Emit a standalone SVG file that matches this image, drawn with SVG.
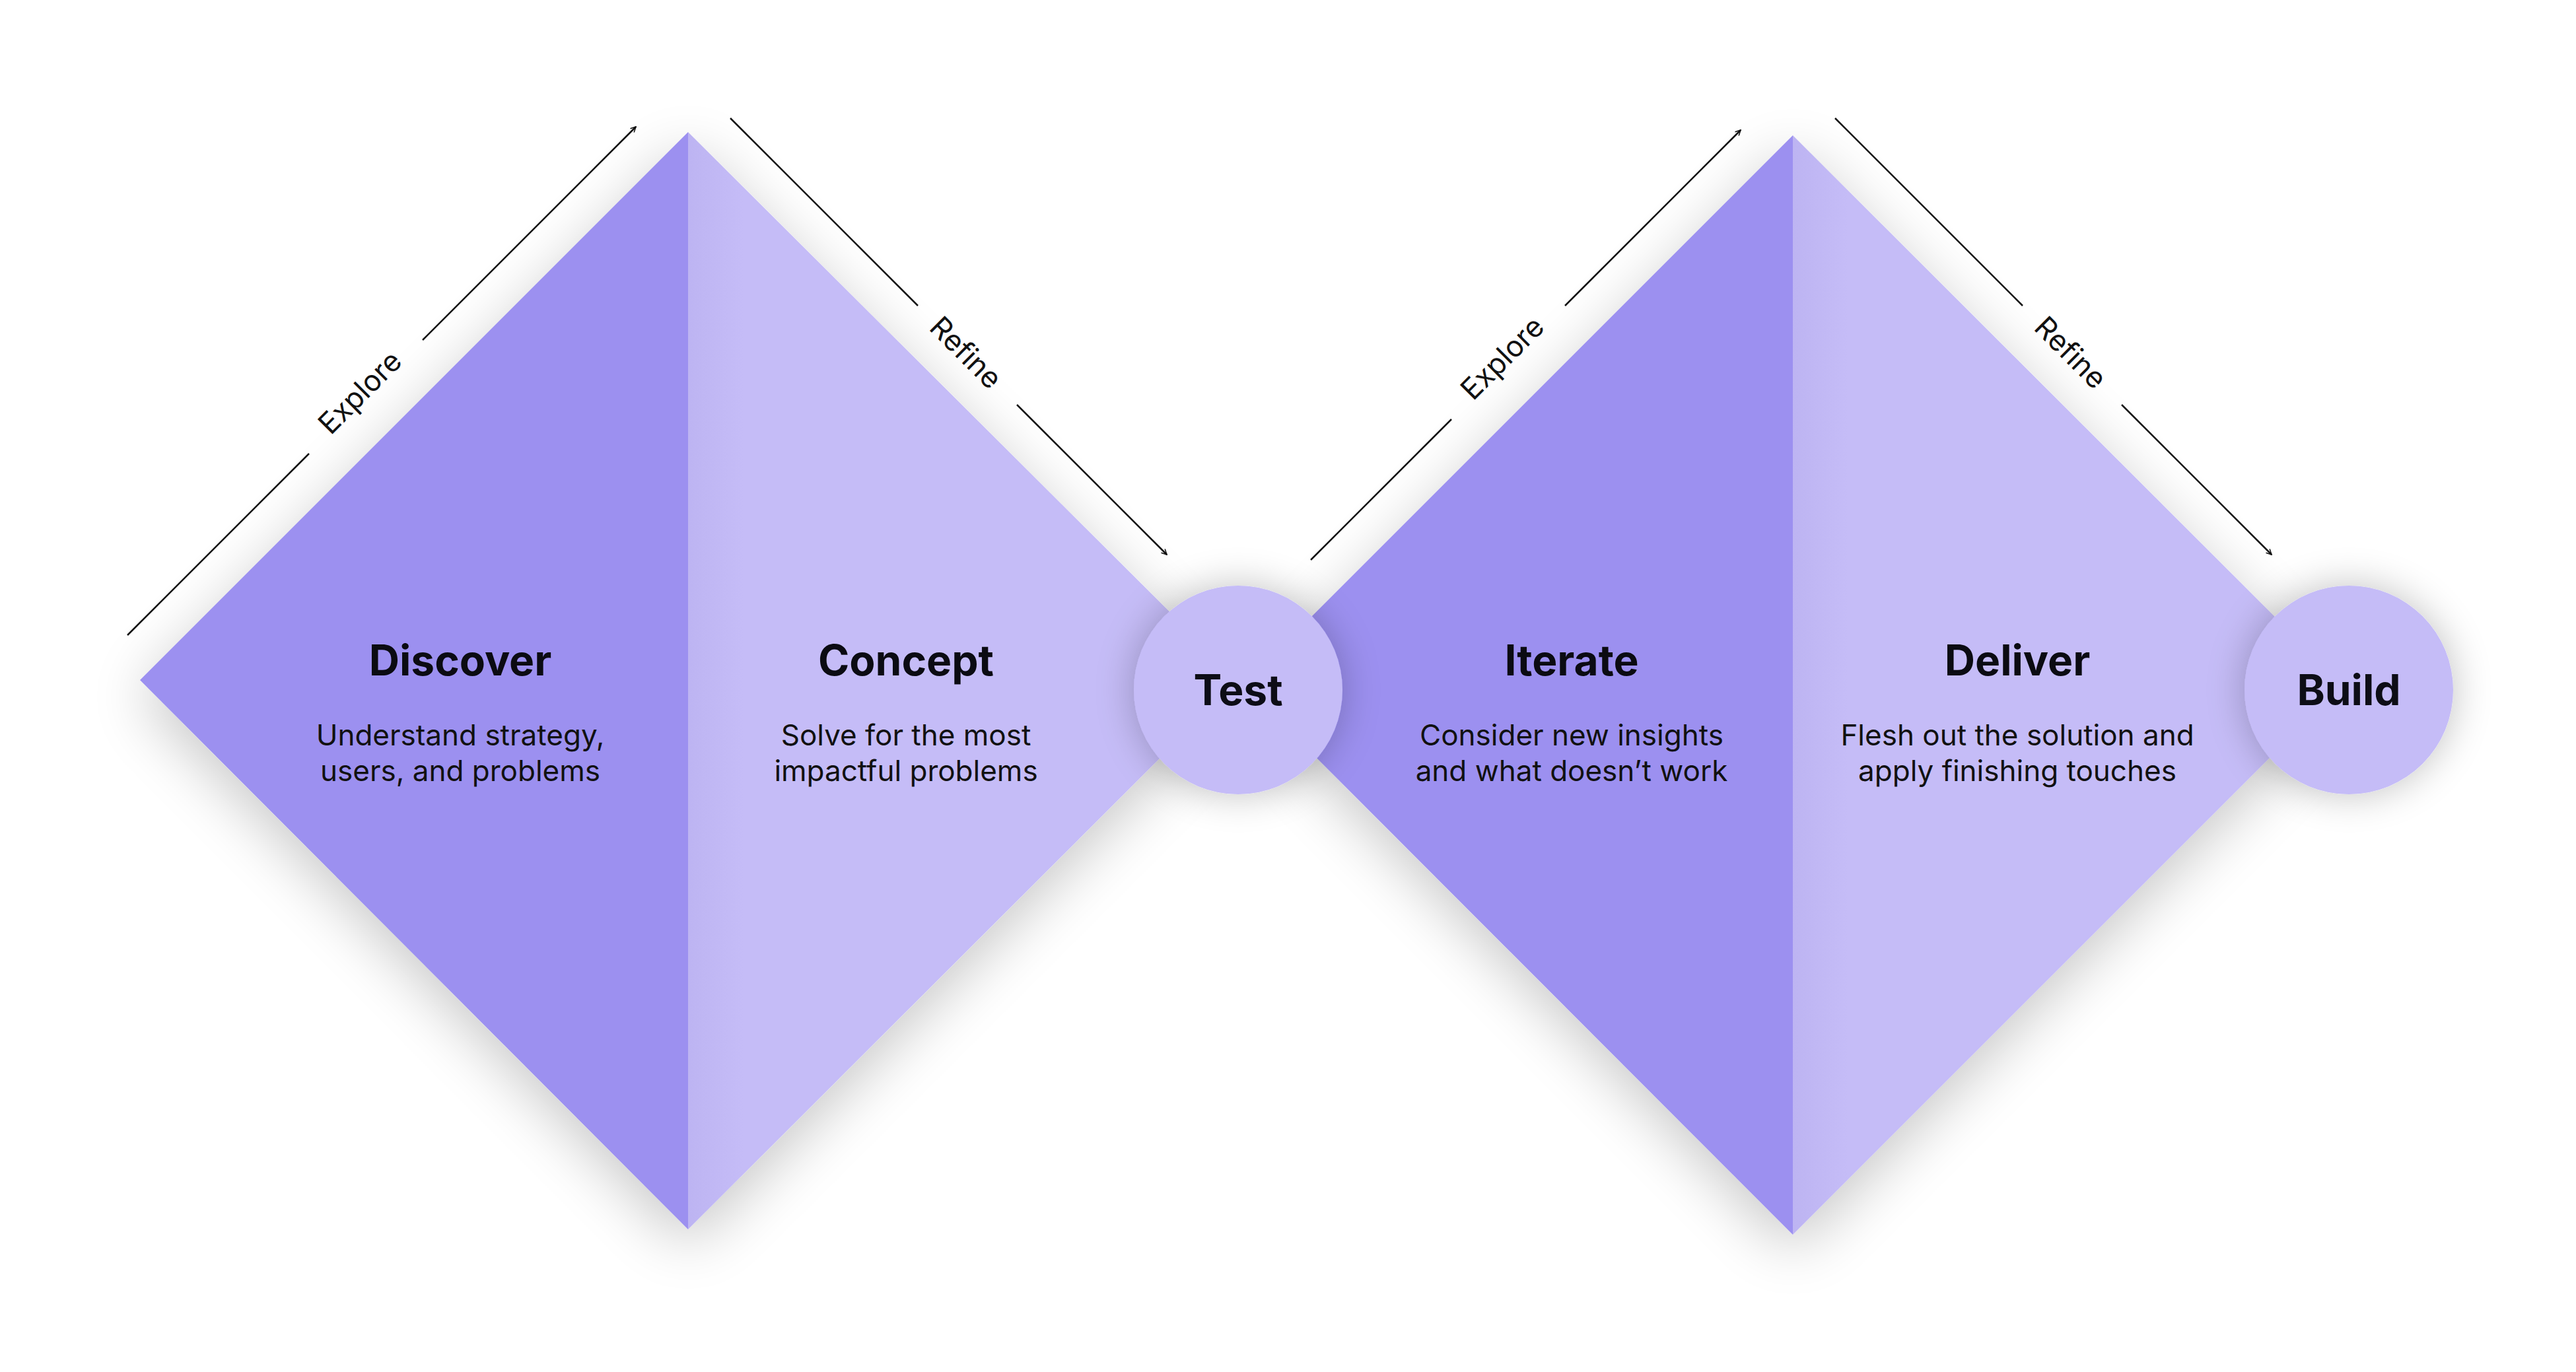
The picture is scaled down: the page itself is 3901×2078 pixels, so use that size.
<svg xmlns="http://www.w3.org/2000/svg" width="3901" height="2078" viewBox="0 0 3901 2078">
<style>
.title{font-family:Inter,"Liberation Sans",sans-serif;font-weight:700;font-size:64px;fill:#0b0b12;text-anchor:middle}
.body{font-family:Inter,"Liberation Sans",sans-serif;font-size:44px;fill:#111;text-anchor:middle}
.lab{font-family:Inter,"Liberation Sans",sans-serif;font-size:44px;fill:#111;text-anchor:middle}
.ln{stroke:#111;stroke-width:2.5;fill:none}
.dark{fill:#9c90f0}
.light{fill:url(#lg)}
.circ{fill:#c5bcf7}
</style>
<defs>
<filter id="sh" x="-30%" y="-30%" width="160%" height="160%"><feGaussianBlur in="SourceAlpha" stdDeviation="45"/><feOffset dy="25"/><feComponentTransfer><feFuncA type="linear" slope="0.22"/></feComponentTransfer><feMerge><feMergeNode/><feMergeNode in="SourceGraphic"/></feMerge></filter>
<filter id="csh" x="-60%" y="-60%" width="220%" height="220%"><feGaussianBlur in="SourceAlpha" stdDeviation="30"/><feComponentTransfer><feFuncA type="linear" slope="0.25"/></feComponentTransfer><feMerge><feMergeNode/><feMergeNode in="SourceGraphic"/></feMerge></filter>
<linearGradient id="lg" x1="0" x2="1" y1="0" y2="0"><stop offset="0" stop-color="#bdb4f2"/><stop offset="0.1" stop-color="#c5bcf7"/><stop offset="1" stop-color="#c5bcf7"/></linearGradient>
<marker id="ah" viewBox="0 0 10 10" refX="9" refY="5" markerWidth="10" markerHeight="10" markerUnits="userSpaceOnUse" orient="auto"><path d="M1,1 L9,5 L1,9" fill="none" stroke="#111" stroke-width="1.5"/></marker>
</defs>
<g id="diamond1" filter="url(#sh)">
<polygon class="dark" points="212,1030 1042,200 1042,1862"/>
<polygon class="light" points="1042,200 1875,1030 1042,1862"/>
</g>
<g id="diamond2" filter="url(#sh)">
<polygon class="dark" points="1883,1037 2715,205 2715,1870"/>
<polygon class="light" points="2715,205 3548,1037 2715,1870"/>
</g>
<g id="discover"><text class="title" x="697" y="1023">Discover</text><text class="body" x="697" y="1129">Understand strategy,</text><text class="body" x="697" y="1183">users, and problems</text></g>
<g id="concept"><text class="title" x="1372" y="1023">Concept</text><text class="body" x="1372" y="1129">Solve for the most</text><text class="body" x="1372" y="1183">impactful problems</text></g>
<g id="iterate"><text class="title" x="2380" y="1023">Iterate</text><text class="body" x="2380" y="1129">Consider new insights</text><text class="body" x="2380" y="1183">and what doesn’t work</text></g>
<g id="deliver"><text class="title" x="3055" y="1023">Deliver</text><text class="body" x="3055" y="1129">Flesh out the solution and</text><text class="body" x="3055" y="1183">apply finishing touches</text></g>
<g id="test" filter="url(#csh)"><circle class="circ" cx="1875" cy="1045" r="158"/><text class="title" x="1875" y="1068">Test</text></g>
<g id="build" filter="url(#csh)"><circle class="circ" cx="3557" cy="1045" r="158"/><text class="title" x="3557" y="1068">Build</text></g>
<g id="connectors">
<line class="ln" x1="193" y1="962" x2="468" y2="687"/>
<line class="ln" x1="640" y1="515" x2="963" y2="192" marker-end="url(#ah)"/>
<text class="lab" transform="translate(556,605) rotate(-45)">Explore</text>
<line class="ln" x1="1106" y1="179" x2="1390" y2="463"/>
<line class="ln" x1="1540" y1="613" x2="1767" y2="840" marker-end="url(#ah)"/>
<text class="lab" transform="translate(1452,545) rotate(45)">Refine</text>
<g transform="translate(1673,5)">
<line class="ln" x1="312" y1="843" x2="525" y2="630"/>
<line class="ln" x1="697" y1="458" x2="963" y2="192" marker-end="url(#ah)"/>
<text class="lab" transform="translate(613,548) rotate(-45)">Explore</text>
<line class="ln" x1="1106" y1="174" x2="1390" y2="458"/>
<line class="ln" x1="1540" y1="608" x2="1767" y2="835" marker-end="url(#ah)"/>
<text class="lab" transform="translate(1452,540) rotate(45)">Refine</text>
</g>
</g>
</svg>
